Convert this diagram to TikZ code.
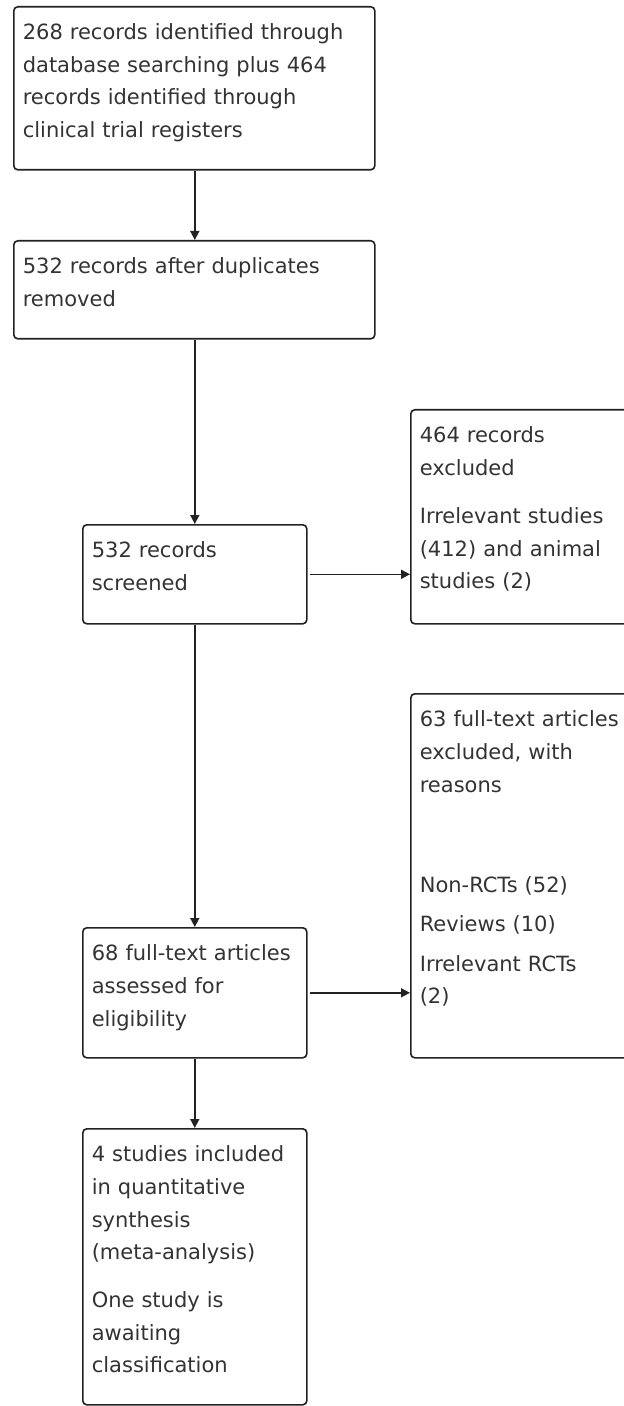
\documentclass[tikz,border=0pt]{standalone}
\usepackage{fontspec}
\setmainfont{DejaVu Sans}
\usepackage{tikz}
\usetikzlibrary{arrows.meta, positioning}
\definecolor{inkgray}{RGB}{51, 51, 51}
\definecolor{linegray}{RGB}{34, 34, 34}

\begin{document}
\begin{tikzpicture}[
    x=0.5pt, y=-0.5pt,
    every node/.style={font=\fontsize{10.5pt}{16.3pt}\selectfont, text=inkgray},
    flowbox/.style={draw=linegray, line width=0.8pt, rounded corners=2pt,
      anchor=north west, align=left, inner xsep=4.5pt, inner ysep=0pt,
      text height=16.5pt},
    widebox/.style={flowbox, text width=171.5pt},
    narrowbox/.style={flowbox, text width=103pt},
    sidebox/.style={flowbox, text width=115pt},
    flowarrow/.style={draw=linegray, line width=0.8pt, -{Triangle[length=4.5pt, width=4.5pt]}},
]
  \useasboundingbox (0,0) rectangle (624,1406);

  % Main column
  \node[widebox, text depth=65pt] (ident) at (13,6)
    {268 records identified through\\database searching plus 464\\records identified through\\clinical trial registers};
  \node[widebox, text depth=32.5pt] (dupl) at (13,240)
    {532 records after duplicates\\removed};
  \node[narrowbox, text depth=33pt] (screen) at (82,524)
    {532 records\\screened};
  \node[narrowbox, text depth=48.5pt] (full) at (82,927)
    {68 full-text articles\\assessed for\\eligibility};
  \node[narrowbox, text depth=121.5pt] (incl) at (82,1128)
    {4 studies included\\in quantitative\\synthesis\\(meta-analysis)\\[7.7pt]One study is\\awaiting\\classification};

  % Exclusions
  \node[sidebox, text depth=90.5pt] (excl) at (410,409)
    {464 records\\excluded\\[7.7pt]Irrelevant studies\\(412) and animal\\studies (2)};
  \node[sidebox, text depth=165.5pt] (fullexcl) at (410,693)
    {63 full-text articles\\excluded, with\\reasons\\[33.7pt]Non-RCTs (52)\\[3.5pt]Reviews (10)\\[3.5pt]Irrelevant RCTs\\(2)};

  % Arrows
  \draw[flowarrow] (ident.south -| screen.north) -- (dupl.north -| screen.north);
  \draw[flowarrow] (dupl.south -| screen.north) -- (screen.north);
  \draw[flowarrow] (screen) -- (full);
  \draw[flowarrow] (full) -- (incl);
  \draw[flowarrow, shorten <=1pt] (screen.east) -- (screen.east -| excl.west);
  \draw[flowarrow, shorten <=1pt] (full.east) -- (full.east -| fullexcl.west);
\end{tikzpicture}
\end{document}
